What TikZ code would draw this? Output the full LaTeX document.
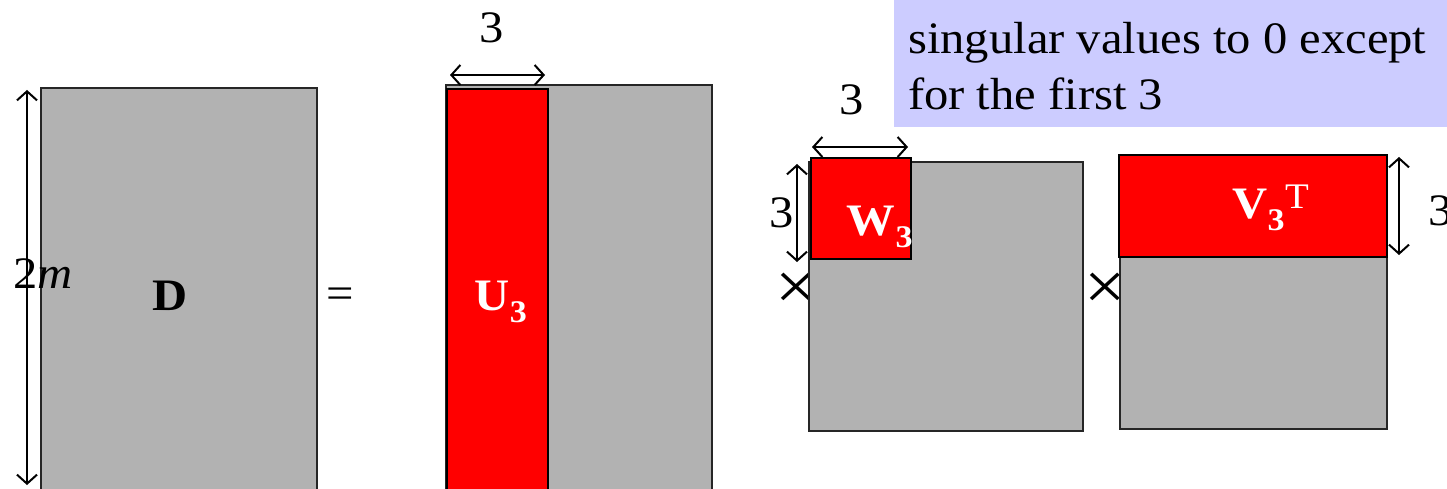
\documentclass[tikz,border=0pt]{standalone}
\usepackage{fontspec}
\setmainfont{Liberation Serif}[FakeStretch=1.08]
\usetikzlibrary{arrows.meta, positioning}
\definecolor{matgray}{RGB}{178,178,178}
\definecolor{notebg}{RGB}{204,204,255}

\begin{document}
\begin{tikzpicture}[x=1pt, y=-1pt, >={Straight Barb[length=9pt,width=20pt]}, font=\fontsize{45}{50}\selectfont]
\tikzstyle{grey block}=[fill=matgray, draw=black!85, line width=1.5pt]
\tikzstyle{red block}=[fill=red, draw=black, line width=1.5pt]
\tikzstyle{dim}=[<->, line width=2pt]
\tikzstyle{lbl}=[anchor=base, inner sep=0pt]
\tikzstyle{red label}=[lbl, text=white, font=\fontsize{45}{50}\selectfont\bfseries]
\tikzstyle{times}=[inner sep=0pt, font=\fontsize{68}{70}\selectfont]

\useasboundingbox (0,0) rectangle (1447,489);
\clip (0,0) rectangle (1447,489);

% note box
\fill[notebg] (894,-5) rectangle (1452,127);
\node[anchor=base west, inner sep=0pt] (note1) at (908,54) {singular values to 0 except};
\node[anchor=base west, inner sep=0pt] (note2) at (908,110) {for the first 3};

% D
\draw[grey block] (41,88) rectangle (317,500);
\coordinate (d top) at (27,90);
\coordinate (d bot) at (27,485);
\draw[dim] (d top) -- (d bot);
\node[lbl] (two m) at (43,288) {2\textit{m}};
\node[lbl] (D) at (170,310) {\textbf{D}};
\node (eq) at (340,298) {=};

% U_3
\draw[grey block] (446,85) rectangle (712,500);
\draw[red block] (447,89) rectangle (548,500);
\coordinate (u left) at (450,75);
\coordinate (u right) at (545,75);
\draw[dim] (u left) -- (u right);
\node[lbl] (u dim) at (492,43) {3};
\node[red label] (U3) at (501,310) {U\textsubscript{3}};

% W_3
\node[times] (x1) at (796,291) {×};
\draw[grey block] (809,162) rectangle (1083,431);
\draw[red block] (811,158) rectangle (911,259);
\coordinate (w left) at (812,147);
\coordinate (w right) at (908,147);
\draw[dim] (w left) -- (w right);
\node[lbl] (w dim) at (852,115) {3};
\coordinate (w top) at (797,164);
\coordinate (w bot) at (797,262);
\draw[dim] (w top) -- (w bot);
\node[lbl] (w side) at (782,227) {3};
\node[red label] (W3) at (880,235) {W\textsubscript{3}};

% V_3^T
\node[times] (x2) at (1105,291) {×};
\draw[grey block] (1120,155) rectangle (1387,429);
\draw[red block] (1119,155) rectangle (1387,257);
\coordinate (v top) at (1399,157);
\coordinate (v bot) at (1399,255);
\draw[dim] (v top) -- (v bot);
\node[lbl] (v side) at (1441,225) {3};
\node[red label] (V3) at (1271,218) {V\textsubscript{3}\textsuperscript{\mdseries\fontsize{36}{40}\selectfont T}};
\end{tikzpicture}
\end{document}
